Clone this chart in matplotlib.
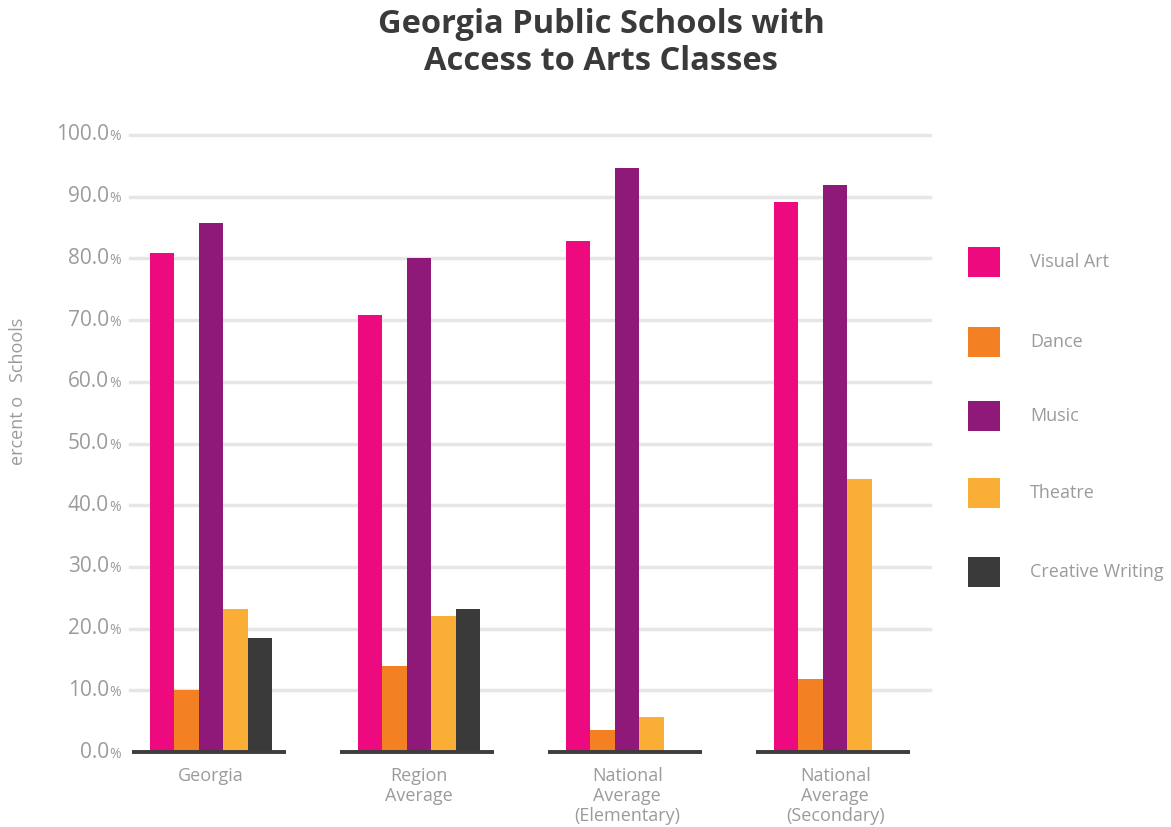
import numpy as np
import matplotlib
matplotlib.use("Agg")
import matplotlib.pyplot as plt
from matplotlib.patches import Rectangle

# Data (percent of schools)
groups = ["Georgia", "Region\nAverage", "National\nAverage\n(Elementary)", "National\nAverage\n(Secondary)"]
subjects = ["Visual Art", "Dance", "Music", "Theatre", "Creative Writing"]
visual_art = [80.8, 70.8, 82.9, 89.2]
dance = [10.0, 13.9, 3.6, 11.8]
music = [85.8, 80.0, 94.6, 91.9]
theatre = [23.1, 22.1, 5.6, 44.3]
creative_writing = [18.5, 23.1, np.nan, np.nan]
yticks = np.arange(0, 101, 10)

series = [visual_art, dance, music, theatre, creative_writing]
colors = ["#EC0A7E", "#F38124", "#8E1978", "#FAAE35", "#3B3A3B"]
gray = "#9b9b9b"

plt.rcParams["font.family"] = ["Open Sans", "DejaVu Sans"]

W, H = 1171, 827
fig = plt.figure(figsize=(W / 100, H / 100), dpi=100)
# axes spans the gridlines: x 130..930 px, y 0% at 752 px, 100% at 135 px
ax = fig.add_axes([130 / W, (H - 752) / H, 800 / W, (752 - 135) / H])

x = np.arange(len(groups))
bw = 0.118
for i, (vals, c) in enumerate(zip(series, colors)):
    ax.bar(x + (i - 2) * bw, vals, width=bw, color=c, zorder=3, linewidth=0)

ax.set_xlim(-0.39, 3.456)
ax.set_ylim(0, 100)

for t in yticks[1:]:
    ax.axhline(t, color="#e6e6e6", lw=2.5, zorder=1, clip_on=False)
ax.hlines([0] * len(x), x - 0.38, x + 0.36, color="#3d3d3d", lw=2.8, zorder=4, clip_on=False)

for s in ax.spines.values():
    s.set_visible(False)
ax.set_xticks([])
ax.set_yticks([])

# y tick labels: number plus a smaller percent sign
for t in yticks:
    ax.annotate(f"{t:.1f}", xy=(0, t), xycoords=("axes fraction", "data"),
                xytext=(-21, 0), textcoords="offset pixels",
                ha="right", va="center", fontsize=15, color=gray)
    ax.annotate("%", xy=(0, t), xycoords=("axes fraction", "data"),
                xytext=(-21, -2), textcoords="offset pixels",
                ha="left", va="center", fontsize=10, color=gray)

for xi, g in zip(x, groups):
    ax.annotate(g, xy=(xi, 0), xycoords="data", xytext=(0, -15), textcoords="offset pixels",
                ha="center", va="top", fontsize=13, color=gray, linespacing=1.13)

fig.text(18 / W, 1 - 391 / H, "ercent o   Schools", rotation=90, ha="center", va="center",
         fontsize=13, color=gray)

fig.text(601 / W, 1 - 43 / H, "Georgia Public Schools with\nAccess to Arts Classes",
         ha="center", va="center", fontsize=23.5, fontweight="bold", color="#3a3a3a",
         linespacing=1.15)

# legend
leg_y = [262, 342, 416, 493, 572]
for yy, name, c in zip(leg_y, subjects, colors):
    fig.patches.append(Rectangle((968 / W, 1 - (yy + 15) / H), 32 / W, 30 / H,
                                 transform=fig.transFigure, facecolor=c, edgecolor="none"))
    fig.text(1030 / W, 1 - yy / H, name, ha="left", va="center", fontsize=13, color=gray)

fig.savefig("out.png", dpi=100)
